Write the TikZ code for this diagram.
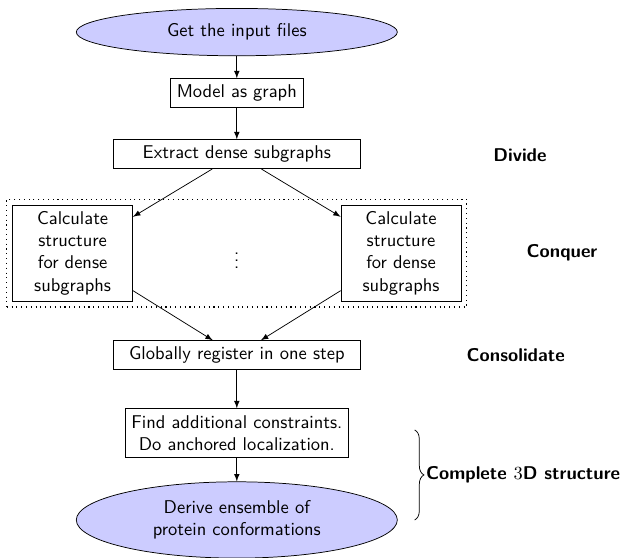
\documentclass[tikz,border=0pt]{standalone}
\renewcommand{\familydefault}{\sfdefault}
\usepackage{tikz}
\usetikzlibrary{shapes.geometric,decorations.pathreplacing,fit}

\begin{document}
\begin{tikzpicture}[>=latex,
        stepbox/.style={draw,rectangle,align=center,minimum height=0.52cm},
        endpoint/.style={draw,ellipse,fill=blue!20,align=center,minimum width=6.1cm},
        phase/.style={font=\bfseries}]
        \useasboundingbox (-4.50,0.61) rectangle (7.30,-9.98);
        \node [endpoint,minimum height=0.9cm] (input) at (0,0) {Get the input files};
        \node [stepbox] (model) at (0,-1.16) {Model as graph};
        \node [stepbox,minimum width=4.71cm] (extract) at (0,-2.32) {Extract dense subgraphs};
        \node [stepbox,minimum width=2.28cm,minimum height=1.82cm] (left) at (-3.12,-4.20)
            {Calculate\\structure\\for dense\\subgraphs};
        \node [stepbox,minimum width=2.28cm,minimum height=1.82cm] (right) at (3.12,-4.20)
            {Calculate\\structure\\for dense\\subgraphs};
        \node (dots) at (0,-4.24) {$\vdots$};
        \node [draw,dotted,line width=0.6pt,inner sep=3pt,fit=(left) (right)] (conquer) {};
        \node [stepbox,minimum width=4.71cm] (global) at (0,-6.14) {Globally register in one step};
        \node [stepbox,minimum height=0.93cm] (find) at (0,-7.62)
            {Find additional constraints.\\Do anchored localization.};
        \node [endpoint,minimum height=1.45cm] (derive) at (0,-9.27)
            {Derive ensemble of\\protein conformations};

        \draw [->] (input) -- (model);
        \draw [->] (model) -- (extract);
        \draw [->] (extract) -- (left);
        \draw [->] (extract) -- (right);
        \draw [->] (left) -- (global);
        \draw [->] (right) -- (global);
        \draw [->] (global) -- (find);
        \draw [->] (find) -- (derive);

        \node [phase] (divide) at (5.38,-2.34) {Divide};
        \node [phase] (conq) at (6.18,-4.20) {Conquer};
        \node [phase] (consol) at (5.30,-6.14) {Consolidate};
        \coordinate (bracetop) at (3.38,-7.56);
        \coordinate (bracebot) at (3.38,-9.27);
        \draw [decorate,decoration={brace,amplitude=5pt}] (bracetop) -- (bracebot)
            node [midway,right=5pt,inner sep=1pt,phase] (complete) {Complete $3$D structure};
    \end{tikzpicture}
\end{document}
